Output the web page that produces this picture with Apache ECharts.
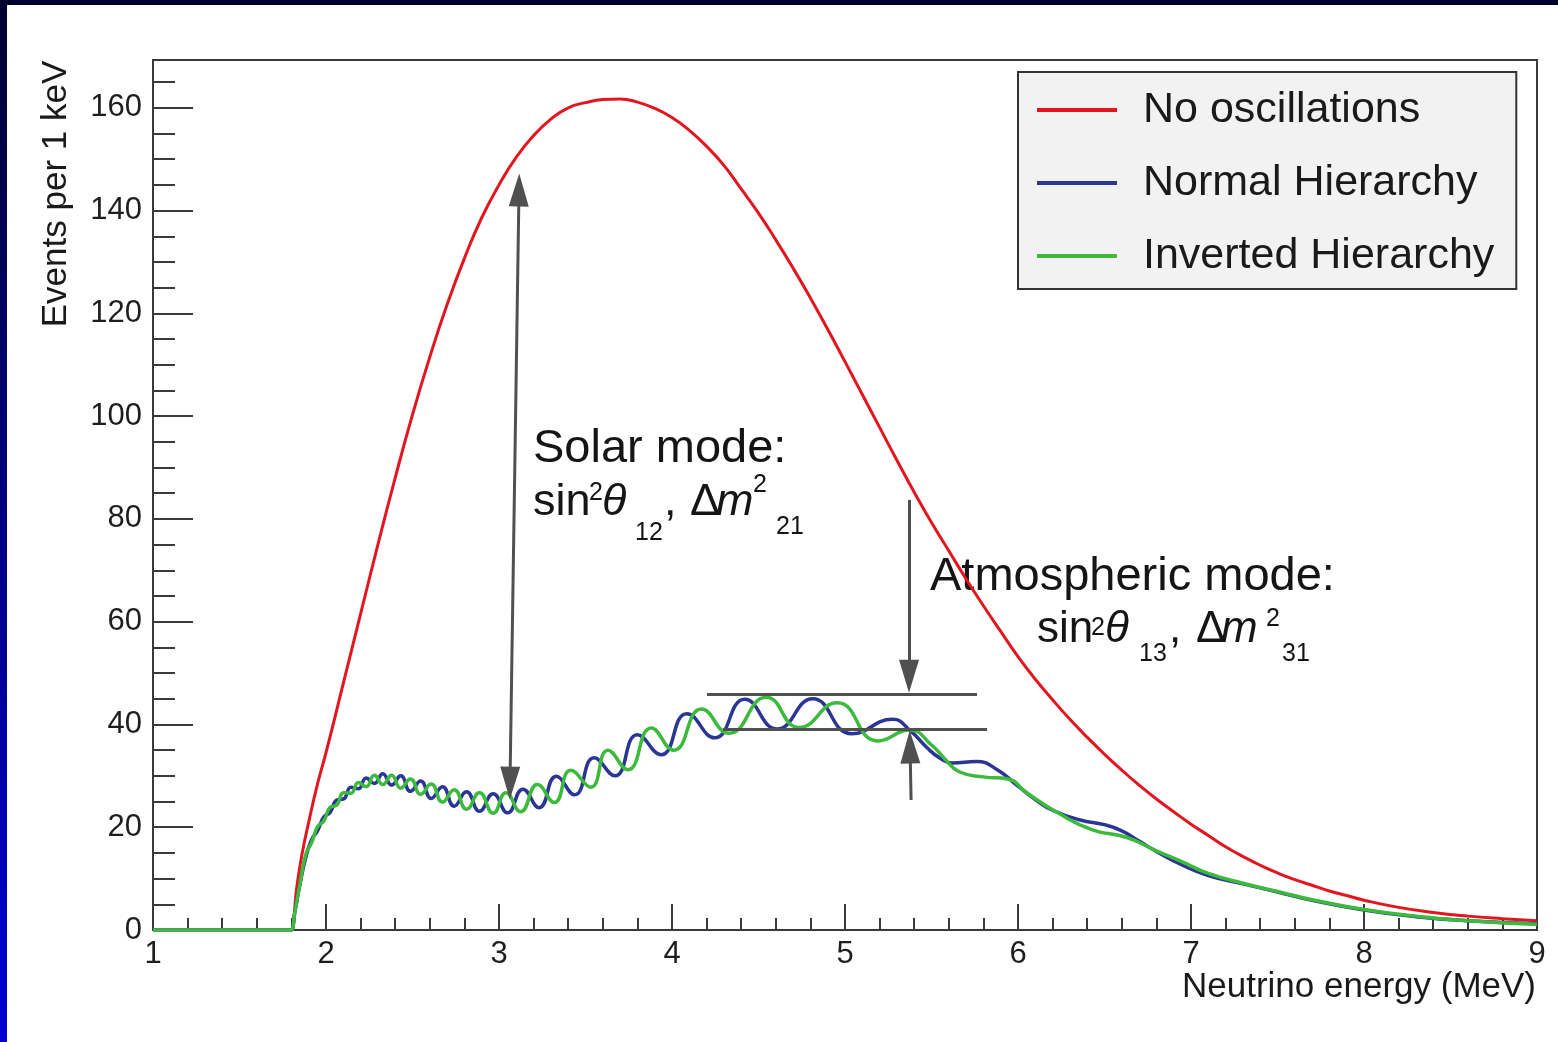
<!DOCTYPE html>
<html><head><meta charset="utf-8">
<script src="https://cdn.jsdelivr.net/npm/echarts@6/dist/echarts.min.js"></script>
<style>html,body{margin:0;padding:0;background:#fff;}#c{width:1558px;height:1042px;}</style>
</head><body><div id="c"></div>
<script>
// ---------- data ----------
const seriesNames = ['No oscillations', 'Normal Hierarchy', 'Inverted Hierarchy'];
const xTickValues = [1, 2, 3, 4, 5, 6, 7, 8, 9];
const yTickValues = [0, 20, 40, 60, 80, 100, 120, 140, 160];

const noOscE = [1.0,1.79,1.8,1.83,1.86,1.9,1.95,2.0,2.1,2.2,2.3,2.4,2.5,2.6,2.7,2.8,2.9,3.0,3.1,3.2,3.3,3.4,3.5,3.6,3.7,3.8,3.9,4.0,4.1,4.2,4.3,4.4,4.5,4.6,4.7,4.8,4.9,5.0,5.1,5.2,5.3,5.4,5.5,5.6,5.7,5.8,5.9,6.0,6.1,6.2,6.3,6.4,6.5,6.6,6.7,6.8,6.9,7.0,7.1,7.2,7.3,7.4,7.5,7.6,7.7,7.8,7.9,8.0,8.2,8.4,8.6,8.8,9.0];
const noOscV = [0,0,0,8,14.5,21,28.3,34.5,48,61.5,75,88,100.3,111.5,121.7,130.7,138.6,145,150.4,154.6,157.8,160,161.0,161.6,161.7,161.1,159.9,158.1,155.6,152.5,148.8,144.2,139.5,134.3,128.8,123,116.9,110.6,104.2,97.8,91.4,85.2,79.3,73.8,68.3,63.1,58.1,53.2,48.8,44.8,41.0,37.5,34.2,31.1,28.2,25.5,23.0,20.6,18.4,16.2,14.3,12.6,11.1,9.8,8.7,7.6,6.7,5.8,4.4,3.4,2.7,2.2,1.8];

const nhE = [1.0,1.79,1.8,1.82,1.85,1.884,1.917,1.951,1.987,2.024,2.062,2.102,2.144,2.187,2.232,2.279,2.328,2.379,2.432,2.488,2.547,2.608,2.673,2.741,2.812,2.887,2.966,3.050,3.138,3.232,3.331,3.437,3.550,3.670,3.800,3.937,4.086,4.247,4.420,4.608,4.813,5.040,5.275,5.38,5.47,5.55,5.62,5.76,5.88,6.00,6.10,6.20,6.36,6.50,6.60,6.70,6.80,6.94,7.10,7.30,7.50,7.70,8.00,8.30,8.60,9.00];
const nhV = [0,0,0,3.5,9,14.2,17.6,19.3,22.0,22.9,25.3,25.5,27.8,27.5,29.6,28.5,30.4,28.2,30.0,27.0,29.0,25.6,27.9,24.1,26.9,23.1,26.5,22.8,27.4,23.8,29.9,26.3,33.5,30.0,38.0,34.1,42.1,37.4,44.9,39.1,45.0,38.2,41.0,38.7,35.6,33.4,32.5,32.8,31.2,28.0,25.4,23.3,21.4,20.5,19.3,17.3,15.3,12.8,10.6,9.0,7.4,5.8,3.9,2.6,1.8,1.2];

const ihE = [1.0,1.79,1.8,1.82,1.85,1.884,1.917,1.951,1.987,2.024,2.062,2.102,2.144,2.187,2.232,2.279,2.328,2.379,2.432,2.488,2.547,2.608,2.673,2.741,2.812,2.887,2.966,3.040,3.125,3.222,3.320,3.415,3.530,3.630,3.745,3.880,4.010,4.170,4.330,4.545,4.735,4.955,5.190,5.375,5.50,5.58,5.66,5.80,5.94,6.05,6.23,6.43,6.63,6.80,6.94,7.10,7.30,7.50,7.70,8.00,8.30,8.60,9.00];
const ihV = [0,0,0,3.5,9,14.8,17.0,20.1,21.2,23.9,24.3,26.7,26.6,28.7,27.9,30.1,28.3,30.1,27.6,29.4,26.4,28.4,24.9,27.3,23.5,26.7,22.7,26.7,23.0,28.3,24.8,31.1,27.8,35.0,31.2,39.3,35.0,43.0,38.3,45.3,39.4,44.2,36.8,38.9,36.0,33.2,30.8,29.8,29.4,26.7,22.8,19.5,18.0,15.4,13.4,11.0,9.1,7.5,5.9,4.0,2.7,1.8,1.1];

const xAxisTitle = 'Neutrino energy (MeV)';
const yAxisTitle = 'Events per 1 keV';

// ---------- annotations (layout) ----------
const arrowLines = [
  {from: [3.0636, 28.6], to: [3.1156, 144.0], s0: 'triangle', s1: 'triangle'},
  {from: [5.370, 83.7], to: [5.370, 49.4], s0: 'none', s1: 'triangle'},
  {from: [5.382, 25.3], to: [5.376, 35.6], s0: 'none', s1: 'triangle'},
  {from: [4.202, 45.9], to: [5.763, 45.9], s0: 'none', s1: 'none'},
  {from: [4.295, 39.1], to: [5.821, 39.1], s0: 'none', s1: 'none'}
];
const annTexts = [
  {t: 'Solar mode:', x: 533, b: 465, fs: 47},
  {t: 'sin', x: 533, b: 518, fs: 45},
  {t: '2', x: 589, b: 502, fs: 25},
  {t: 'θ', x: 602, b: 518, fs: 45, it: true},
  {t: '12', x: 635, b: 542, fs: 25},
  {t: ',', x: 664, b: 518, fs: 45},
  {t: 'Δ', x: 690, b: 518, fs: 45},
  {t: 'm', x: 716, b: 518, fs: 45, it: true},
  {t: '2', x: 753, b: 494, fs: 25},
  {t: '21', x: 776, b: 536, fs: 25},
  {t: 'Atmospheric mode:', x: 930, b: 593, fs: 47},
  {t: 'sin', x: 1037, b: 645, fs: 44},
  {t: '2', x: 1091, b: 637, fs: 25},
  {t: 'θ', x: 1105, b: 645, fs: 44, it: true},
  {t: '13', x: 1139, b: 663, fs: 25},
  {t: ',', x: 1169, b: 645, fs: 44},
  {t: 'Δ', x: 1196, b: 645, fs: 44},
  {t: 'm', x: 1221, b: 645, fs: 44, it: true},
  {t: '2', x: 1266, b: 628, fs: 25},
  {t: '31', x: 1282, b: 663, fs: 25}
];

// ---------- build ----------
const FONT = '"Liberation Sans", Arial, sans-serif';
const AX = '#3a3a3a';
const colors = ['#e3151e', '#2a3596', '#3cba3c'];
const zip = (a, b) => a.map((v, i) => [v, b[i]]);

const chart = echarts.init(document.getElementById('c'), null, {renderer: 'canvas'});

const graphics = [
  {type: 'rect', shape: {x: 0, y: 0, width: 1558, height: 5}, style: {fill: '#00002e'}, silent: true},
  {type: 'rect', shape: {x: 0, y: 0, width: 7, height: 1042}, silent: true,
   style: {fill: new echarts.graphic.LinearGradient(0, 0, 0, 1, [{offset: 0, color: '#000030'}, {offset: 1, color: '#0000d4'}])}},
  {type: 'text', x: 1536, y: 999 - 0.347 * 35, silent: true,
   style: {text: xAxisTitle, fontSize: 35, fontFamily: FONT, fill: '#1a1a1a', align: 'right', verticalAlign: 'middle'}},
  {type: 'text', x: 56, y: 194, rotation: Math.PI / 2, silent: true,
   style: {text: yAxisTitle, fontSize: 35, fontFamily: FONT, fill: '#1a1a1a', align: 'center', verticalAlign: 'middle'}}
];
annTexts.forEach(a => graphics.push({
  type: 'text', x: a.x, y: a.b - 0.347 * a.fs, silent: true,
  style: {text: a.t, fontSize: a.fs, fontFamily: FONT, fontStyle: a.it ? 'italic' : 'normal',
          fill: '#151515', align: 'left', verticalAlign: 'middle'}
}));

const lineSeries = (name, E, V, color, width) => ({
  name, type: 'line', data: zip(E, V), showSymbol: false, symbol: 'none', smooth: 0.5,
  lineStyle: {color, width}, itemStyle: {color}, animation: false, silent: true
});

const option = {
  animation: false,
  backgroundColor: '#ffffff',
  textStyle: {fontFamily: FONT},
  grid: {left: 153, right: 21, top: 60, bottom: 112, show: true, borderColor: AX, borderWidth: 2, backgroundColor: 'transparent'},
  legend: {
    data: seriesNames, orient: 'vertical', left: 1018, top: 72,
    padding: [14, 22, 9, 19], itemGap: 25, itemWidth: 80, itemHeight: 4, icon: 'rect',
    backgroundColor: '#f2f2f2', borderColor: '#333', borderWidth: 2,
    textStyle: {fontSize: 43, fontFamily: FONT, color: '#1a1a1a', lineHeight: 48, padding: [0, 0, 0, 21]},
    selectedMode: false
  },
  xAxis: {
    type: 'value', min: xTickValues[0], max: xTickValues[xTickValues.length - 1], interval: 1,
    axisLine: {show: true, onZero: false, lineStyle: {color: AX, width: 2}},
    axisTick: {show: true, inside: true, length: 26, lineStyle: {color: AX, width: 2}},
    minorTick: {show: true, splitNumber: 5, length: 12, lineStyle: {color: AX, width: 2}},
    axisLabel: {fontSize: 31, color: '#1e1e1e', margin: 9, fontFamily: FONT},
    splitLine: {show: false}, minorSplitLine: {show: false}
  },
  yAxis: {
    type: 'value', min: yTickValues[0], max: 169.3, interval: 20,
    axisLine: {show: true, onZero: false, lineStyle: {color: AX, width: 2}},
    axisTick: {show: true, inside: true, length: 40, lineStyle: {color: AX, width: 2}},
    minorTick: {show: true, splitNumber: 4, length: 22, lineStyle: {color: AX, width: 2}},
    axisLabel: {fontSize: 31, color: '#1e1e1e', margin: 11, fontFamily: FONT,
      formatter: v => (yTickValues.indexOf(Math.round(v * 1000) / 1000) >= 0 ? String(v) : '')},
    splitLine: {show: false}, minorSplitLine: {show: false}
  },
  series: [
    lineSeries(seriesNames[0], noOscE, noOscV, colors[0], 3),
    lineSeries(seriesNames[1], nhE, nhV, colors[1], 3.5),
    lineSeries(seriesNames[2], ihE, ihV, colors[2], 3.5),
    {
      type: 'line', data: [], silent: true, z: 5, animation: false,
      markLine: {
        silent: true, animation: false, symbol: ['none', 'none'], symbolSize: [20, 33],
        label: {show: false}, emphasis: {disabled: true},
        lineStyle: {color: '#505050', width: 3, type: 'solid'},
        data: arrowLines.map(l => [
          {coord: l.from, symbol: l.s0, symbolSize: [20, 33]},
          {coord: l.to, symbol: l.s1, symbolSize: [20, 33]}
        ])
      }
    }
  ],
  graphic: graphics
};
chart.setOption(option);
</script>
</body></html>
